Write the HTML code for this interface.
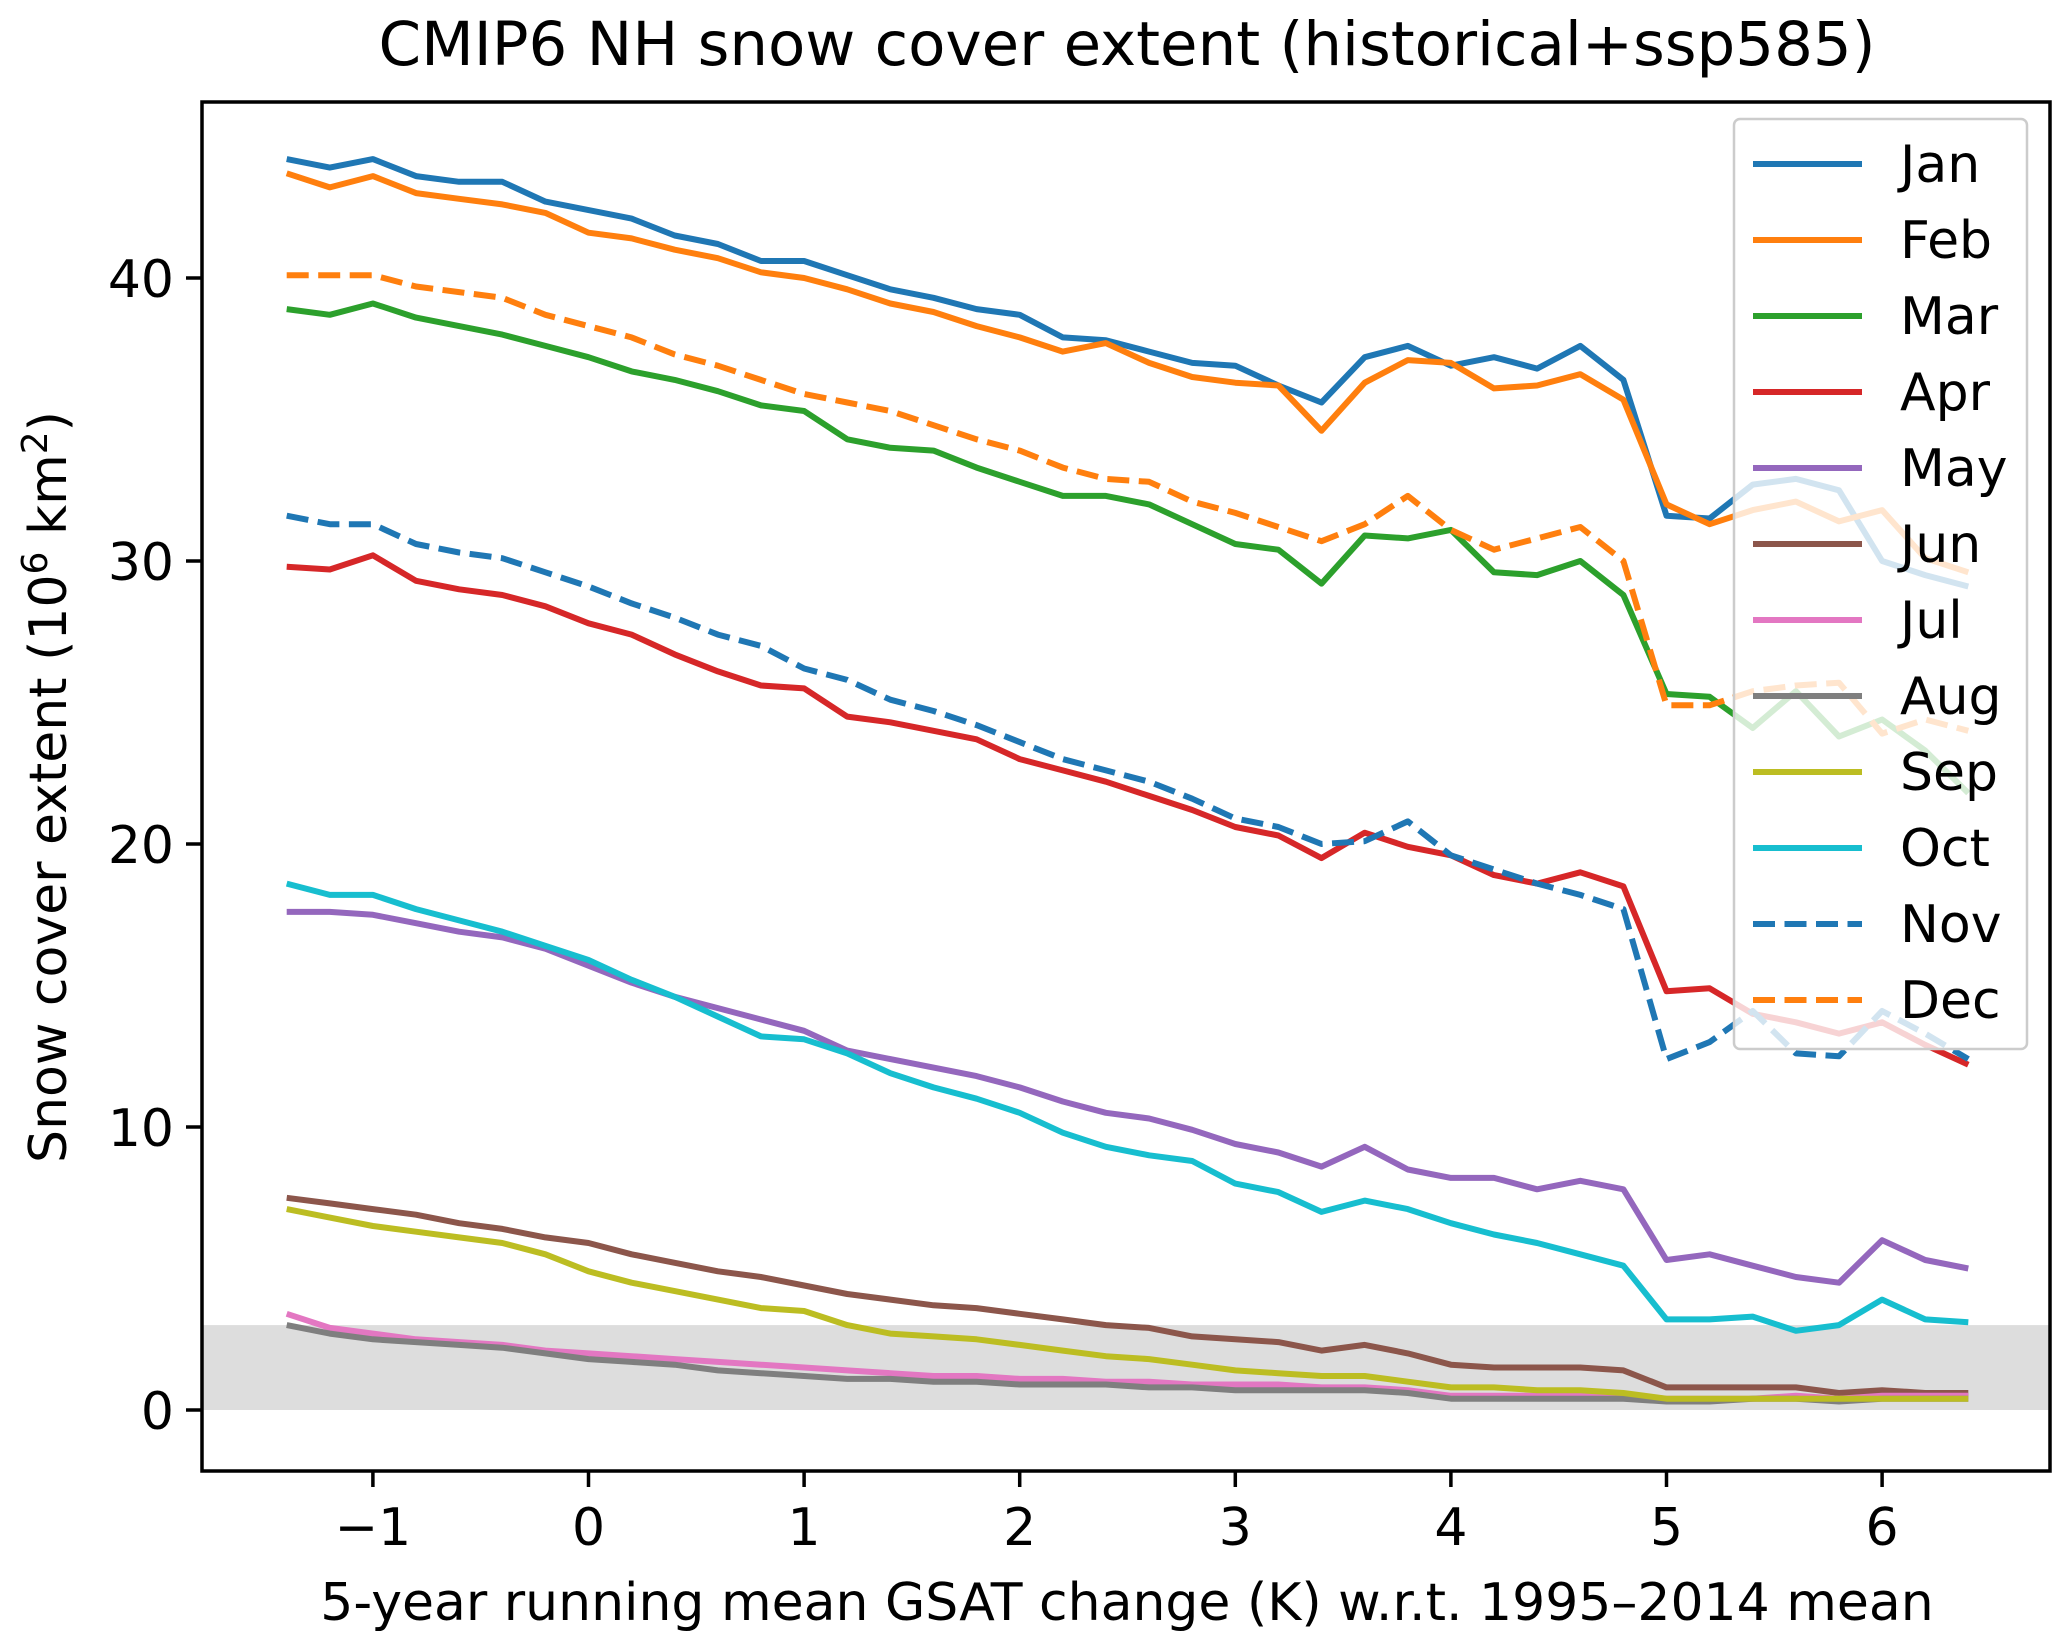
<!DOCTYPE html>
<html><head><meta charset="utf-8">
<style>
html,body{margin:0;padding:0;background:#fff;}
svg{display:block;font-family:"DejaVu Sans","Liberation Sans",sans-serif;}
</style></head>
<body>
<svg id="chart" width="2067" height="1644" viewBox="0 0 2067 1644" xmlns="http://www.w3.org/2000/svg">
<text x="1127" y="65" font-size="61" text-anchor="middle">CMIP6 NH snow cover extent (historical+ssp585)</text>
<g id="plot"></g>
<g id="axes"></g>
<g id="legend"></g>
<text x="1127" y="1620" font-size="52" text-anchor="middle">5-year running mean GSAT change (K) w.r.t. 1995–2014 mean</text>
<text transform="translate(66,787) rotate(-90)" font-size="52" text-anchor="middle">Snow cover extent (10<tspan dy="-19" font-size="36">6</tspan><tspan dy="19"> km</tspan><tspan dy="-19" font-size="36">2</tspan><tspan dy="19">)</tspan></text>
</svg>
<script>
const months = ["Jan","Feb","Mar","Apr","May","Jun","Jul","Aug","Sep","Oct","Nov","Dec"];
const colors = ["#1f77b4","#ff7f0e","#2ca02c","#d62728","#9467bd","#8c564b","#e377c2","#7f7f7f","#bcbd22","#17becf","#1f77b4","#ff7f0e"];
const dashed = [false,false,false,false,false,false,false,false,false,false,true,true];
const xStart = -1.4, xStep = 0.2;
const xTicks = [-1,0,1,2,3,4,5,6];
const yTicks = [0,10,20,30,40];
const shadeTop = 3;
const jan = [44.2,43.9,44.2,43.6,43.4,43.4,42.7,42.4,42.1,41.5,41.2,40.6,40.6,40.1,39.6,39.3,38.9,38.7,37.9,37.8,37.4,37.0,36.9,36.2,35.6,37.2,37.6,36.9,37.2,36.8,37.6,36.4,31.6,31.5,32.7,32.9,32.5,30.0,29.5,29.1];
const feb = [43.7,43.2,43.6,43.0,42.8,42.6,42.3,41.6,41.4,41.0,40.7,40.2,40.0,39.6,39.1,38.8,38.3,37.9,37.4,37.7,37.0,36.5,36.3,36.2,34.6,36.3,37.1,37.0,36.1,36.2,36.6,35.7,32.0,31.3,31.8,32.1,31.4,31.8,30.1,29.6];
const mar = [38.9,38.7,39.1,38.6,38.3,38.0,37.6,37.2,36.7,36.4,36.0,35.5,35.3,34.3,34.0,33.9,33.3,32.8,32.3,32.3,32.0,31.3,30.6,30.4,29.2,30.9,30.8,31.1,29.6,29.5,30.0,28.8,25.3,25.2,24.1,25.4,23.8,24.4,23.3,21.8];
const apr = [29.8,29.7,30.2,29.3,29.0,28.8,28.4,27.8,27.4,26.7,26.1,25.6,25.5,24.5,24.3,24.0,23.7,23.0,22.6,22.2,21.7,21.2,20.6,20.3,19.5,20.4,19.9,19.6,18.9,18.6,19.0,18.5,14.8,14.9,14.0,13.7,13.3,13.7,12.9,12.2];
const may = [17.6,17.6,17.5,17.2,16.9,16.7,16.3,15.7,15.1,14.6,14.2,13.8,13.4,12.7,12.4,12.1,11.8,11.4,10.9,10.5,10.3,9.9,9.4,9.1,8.6,9.3,8.5,8.2,8.2,7.8,8.1,7.8,5.3,5.5,5.1,4.7,4.5,6.0,5.3,5.0];
const jun = [7.5,7.3,7.1,6.9,6.6,6.4,6.1,5.9,5.5,5.2,4.9,4.7,4.4,4.1,3.9,3.7,3.6,3.4,3.2,3.0,2.9,2.6,2.5,2.4,2.1,2.3,2.0,1.6,1.5,1.5,1.5,1.4,0.8,0.8,0.8,0.8,0.6,0.7,0.6,0.6];
const jul = [3.4,2.9,2.7,2.5,2.4,2.3,2.1,2.0,1.9,1.8,1.7,1.6,1.5,1.4,1.3,1.2,1.2,1.1,1.1,1.0,1.0,0.9,0.9,0.9,0.8,0.8,0.7,0.5,0.5,0.5,0.5,0.5,0.4,0.4,0.4,0.5,0.4,0.5,0.5,0.5];
const aug = [3.0,2.7,2.5,2.4,2.3,2.2,2.0,1.8,1.7,1.6,1.4,1.3,1.2,1.1,1.1,1.0,1.0,0.9,0.9,0.9,0.8,0.8,0.7,0.7,0.7,0.7,0.6,0.4,0.4,0.4,0.4,0.4,0.3,0.3,0.4,0.4,0.3,0.4,0.4,0.4];
const sep = [7.1,6.8,6.5,6.3,6.1,5.9,5.5,4.9,4.5,4.2,3.9,3.6,3.5,3.0,2.7,2.6,2.5,2.3,2.1,1.9,1.8,1.6,1.4,1.3,1.2,1.2,1.0,0.8,0.8,0.7,0.7,0.6,0.4,0.4,0.4,0.4,0.4,0.4,0.4,0.4];
const oct = [18.6,18.2,18.2,17.7,17.3,16.9,16.4,15.9,15.2,14.6,13.9,13.2,13.1,12.6,11.9,11.4,11.0,10.5,9.8,9.3,9.0,8.8,8.0,7.7,7.0,7.4,7.1,6.6,6.2,5.9,5.5,5.1,3.2,3.2,3.3,2.8,3.0,3.9,3.2,3.1];
const nov = [31.6,31.3,31.3,30.6,30.3,30.1,29.6,29.1,28.5,28.0,27.4,27.0,26.2,25.8,25.1,24.7,24.2,23.6,23.0,22.6,22.2,21.6,20.9,20.6,20.0,20.1,20.8,19.6,19.1,18.6,18.2,17.7,12.4,13.0,14.1,12.6,12.5,14.1,13.3,12.4];
const dec = [40.1,40.1,40.1,39.7,39.5,39.3,38.7,38.3,37.9,37.3,36.9,36.4,35.9,35.6,35.3,34.8,34.3,33.9,33.3,32.9,32.8,32.1,31.7,31.2,30.7,31.3,32.3,31.1,30.4,30.8,31.2,30.0,24.9,24.9,25.4,25.6,25.7,23.9,24.4,24.0];
const series = [jan,feb,mar,apr,may,jun,jul,aug,sep,oct,nov,dec];

const NS = "http://www.w3.org/2000/svg";
const L = 202, R = 2050, T = 102, B = 1471;
const X0 = 588.5, XK = 215.6, Y0 = 1410, YU = 28.3;
const LW = 6;
const DASH = '22 9.5';
const xs = v => X0 + v * XK;
const ys = v => Y0 - v * YU;
function mk(tag, attrs, parent){ const e = document.createElementNS(NS, tag); for (const k in attrs) e.setAttribute(k, attrs[k]); parent.appendChild(e); return e; }
const plot = document.getElementById('plot'), axes = document.getElementById('axes'), leg = document.getElementById('legend');

const shade = mk('rect', {x:L, y:ys(shadeTop), width:R-L, height:ys(0)-ys(shadeTop), fill:'#dddddd'}, plot);



series.forEach((vals, i) => {
  const pts = vals.map((v, j) => xs(xStart + j * xStep).toFixed(1) + ',' + ys(v).toFixed(1)).join(' ');
  const a = {points:pts, fill:'none', stroke:colors[i], 'stroke-width':LW, 'stroke-linejoin':'round'};
  if (dashed[i]) a['stroke-dasharray'] = DASH;
  const p = mk('polyline', a, plot);
  
  
});

const frame = mk('rect', {x:L, y:T, width:R-L, height:B-T, fill:'none', stroke:'#000', 'stroke-width':3.5}, axes);



xTicks.forEach(t => {
  const x = xs(t);
  mk('line', {x1:x, x2:x, y1:B, y2:B+16, stroke:'#000', 'stroke-width':3.5}, axes);
  const tx = mk('text', {x:x, y:B+74, 'font-size':52, 'text-anchor':'middle'}, axes);
  tx.textContent = t < 0 ? '\u2212' + Math.abs(t) : String(t);
  
  
});
yTicks.forEach(t => {
  const y = ys(t);
  mk('line', {x1:L-16, x2:L, y1:y, y2:y, stroke:'#000', 'stroke-width':3.5}, axes);
  const tx = mk('text', {x:L-28, y:y+19, 'font-size':52, 'text-anchor':'end'}, axes);
  tx.textContent = String(t);
  
  
});

const lb = mk('rect', {x:1734, y:119, width:293, height:930, rx:6, fill:'#fff', 'fill-opacity':0.8, stroke:'#cccccc', 'stroke-width':2.5}, leg);


months.forEach((m, i) => {
  const y = 164 + i * 76;
  const g = mk('g', {}, leg);
  
  
  const a = {x1:1753, x2:1862, y1:y, y2:y, stroke:colors[i], 'stroke-width':LW};
  if (dashed[i]) a['stroke-dasharray'] = DASH;
  mk('line', a, g);
  const t = mk('text', {x:1900, y:y+18, 'font-size':52}, g);
  t.textContent = m;
});
</script>
</body></html>
